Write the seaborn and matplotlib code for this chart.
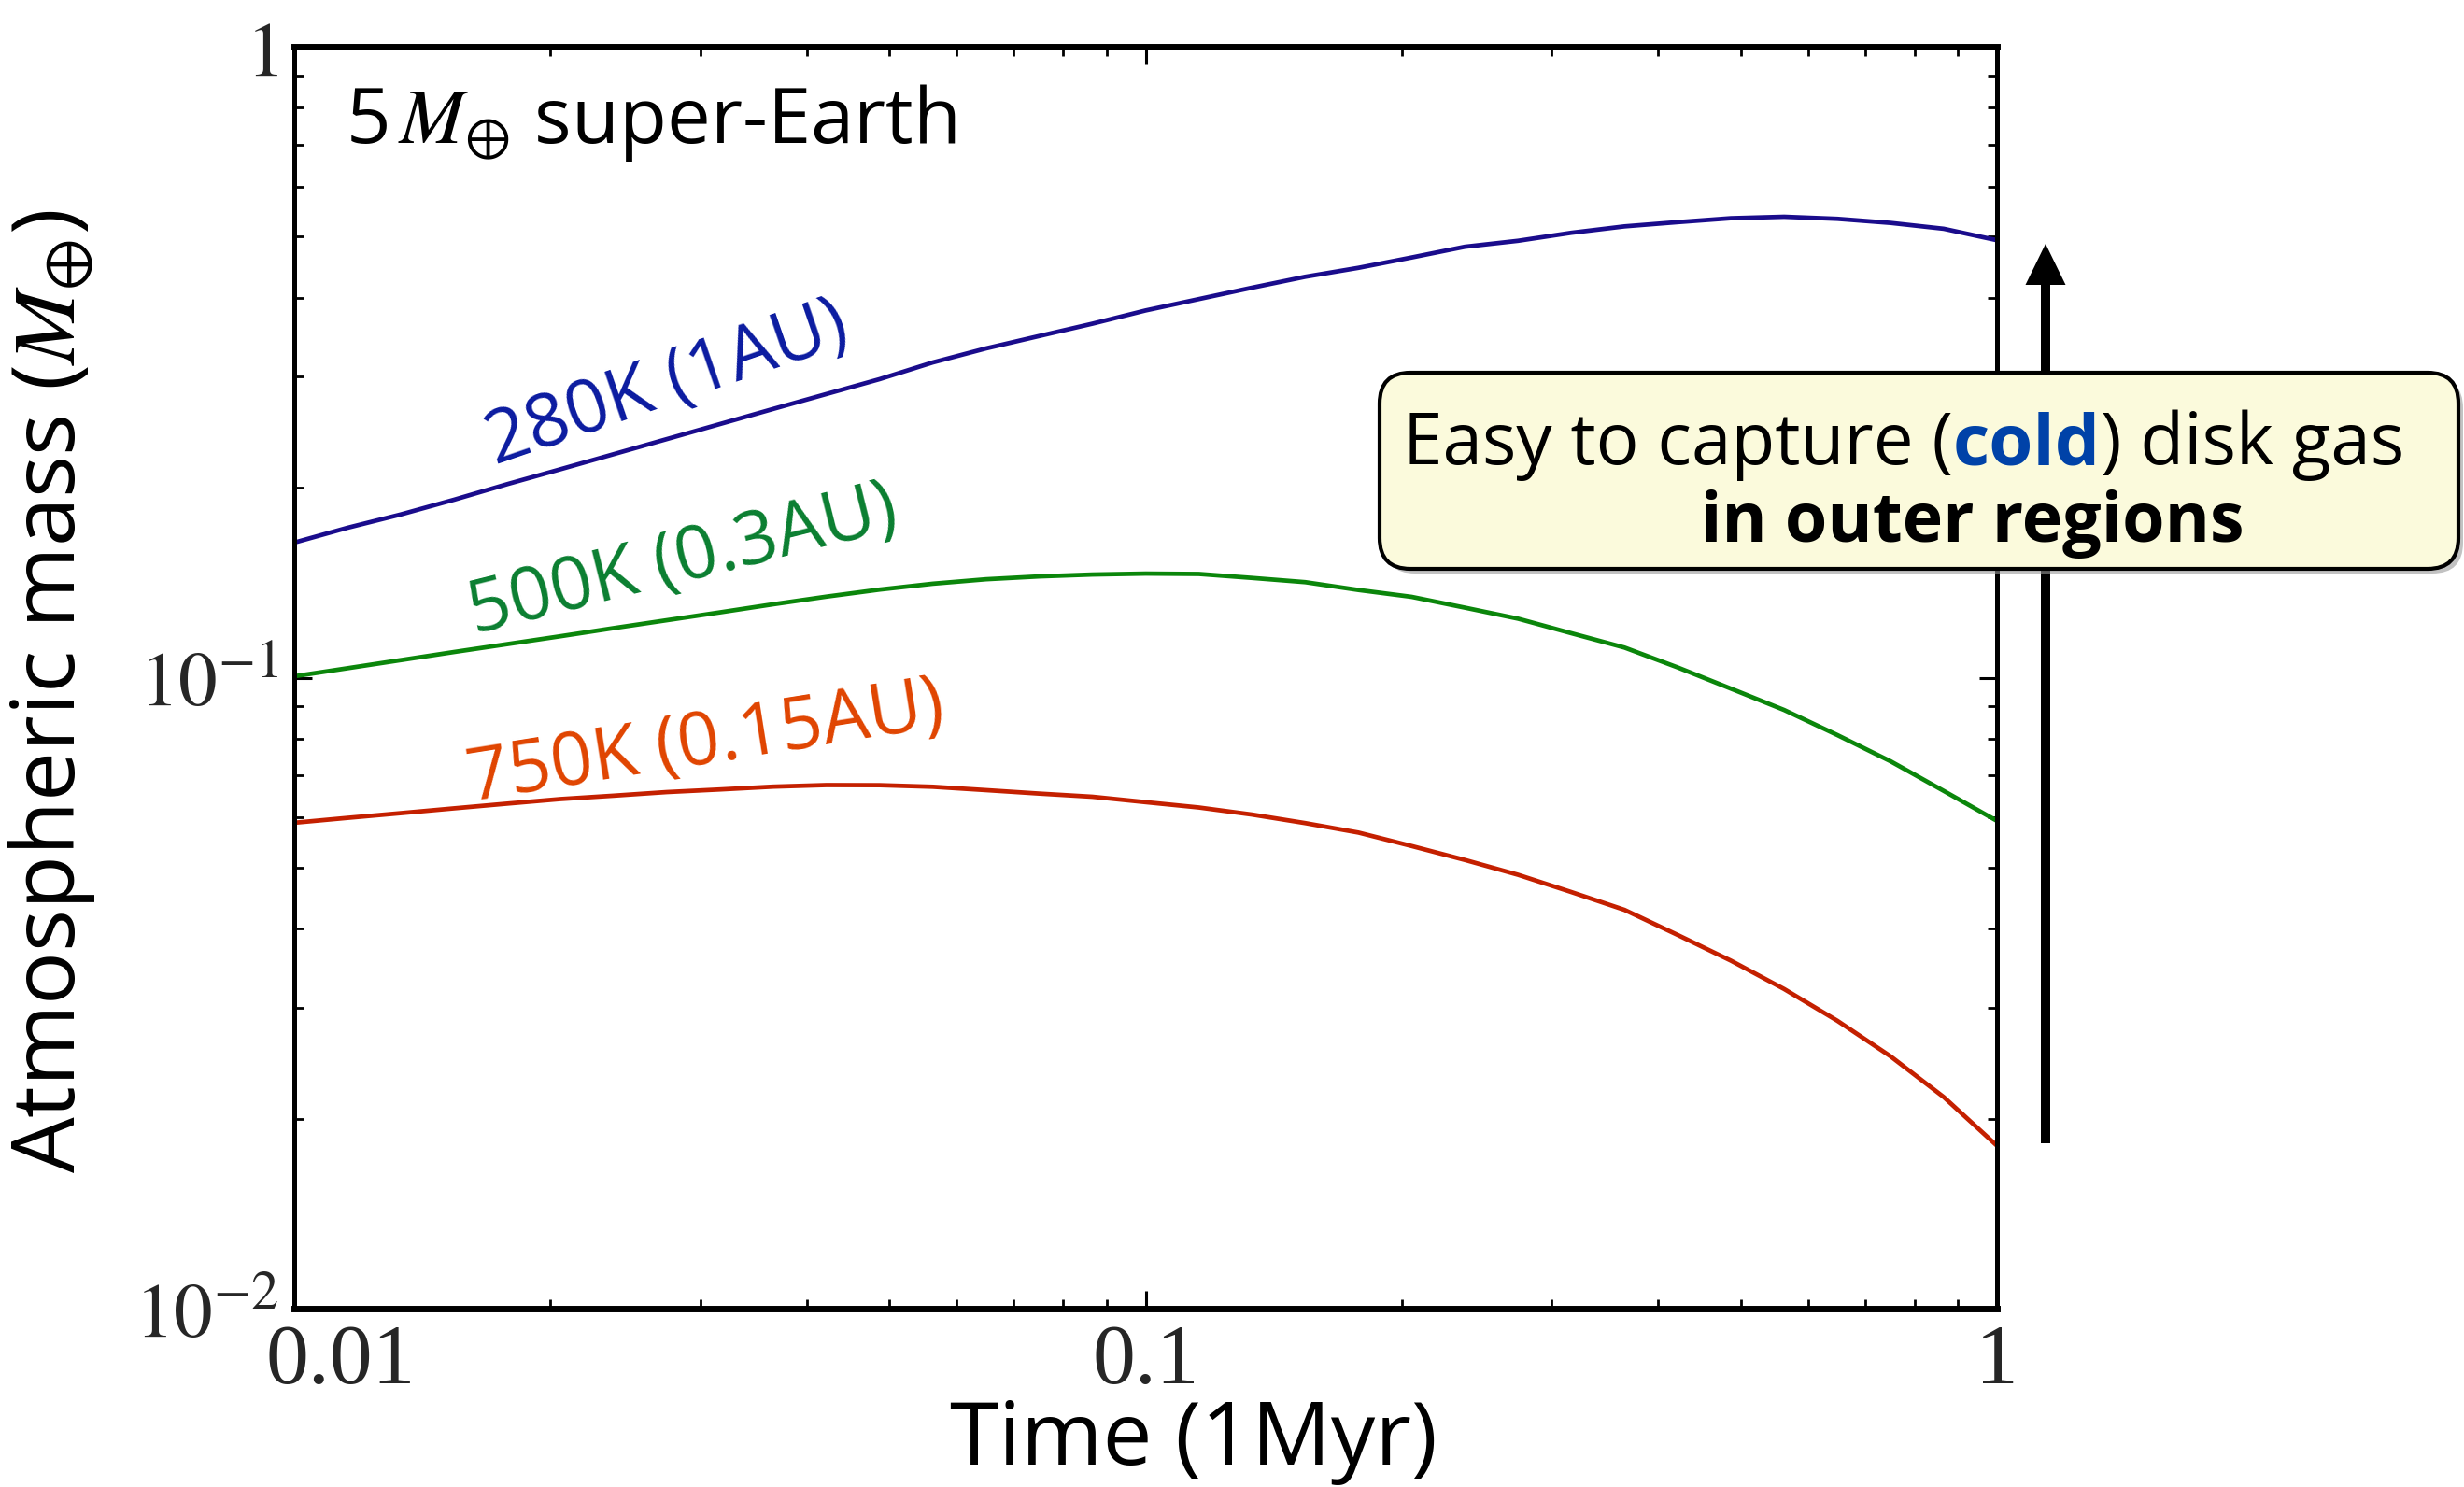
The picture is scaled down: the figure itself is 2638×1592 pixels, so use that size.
import numpy as np
import pandas as pd
import matplotlib
matplotlib.use("Agg")
import matplotlib.pyplot as plt
from matplotlib.patches import FancyBboxPatch, FancyArrow
from matplotlib.offsetbox import TextArea, HPacker, AnnotationBbox
from matplotlib.ticker import NullFormatter, FixedLocator, LogLocator
from matplotlib.transforms import ScaledTranslation
import seaborn as sns

sns.set_theme(style="ticks")
plt.rcParams['font.family'] = ['Open Sans', 'DejaVu Sans']
plt.rcParams['mathtext.fontset'] = 'stix'

# Time (in units of 1 Myr) and atmospheric mass (Earth masses) for each disk temperature
time_myr = [0.01, 0.011548, 0.013335, 0.015399, 0.017783, 0.020535, 0.023714, 0.027384,
            0.031623, 0.036517, 0.04217, 0.048697, 0.056234, 0.064938, 0.074989, 0.086596,
            0.1, 0.11548, 0.13335, 0.15399, 0.17783, 0.20535, 0.23714, 0.27384,
            0.31623, 0.36517, 0.4217, 0.48697, 0.56234, 0.64938, 0.74989, 0.86596, 1.0]
mass_280K = [0.1637, 0.1728, 0.1814, 0.1914, 0.2026, 0.2139, 0.2260, 0.2388,
             0.2523, 0.2666, 0.2815, 0.2972, 0.3159, 0.3325, 0.3479, 0.3639,
             0.3819, 0.3981, 0.4150, 0.4319, 0.4462, 0.4634, 0.4819, 0.4925,
             0.5071, 0.5191, 0.5272, 0.5348, 0.5377, 0.5336, 0.5257, 0.5146, 0.4935]
mass_500K = [0.1005, 0.1035, 0.1066, 0.1098, 0.1130, 0.1163, 0.1198, 0.1233,
             0.1269, 0.1307, 0.1344, 0.1379, 0.1409, 0.1432, 0.1447, 0.1457,
             0.1462, 0.1460, 0.1439, 0.1417, 0.1377, 0.1343, 0.1291, 0.1240,
             0.1176, 0.1116, 0.1038, 0.09607, 0.08887, 0.08110, 0.07370, 0.06614, 0.05929]
mass_750K = [0.05888, 0.05994, 0.06098, 0.06206, 0.06314, 0.06420, 0.06500, 0.06586,
             0.06649, 0.06718, 0.06757, 0.06754, 0.06715, 0.06633, 0.06550, 0.06475,
             0.06348, 0.06226, 0.06067, 0.05881, 0.05681, 0.05409, 0.05141, 0.04870,
             0.04573, 0.04285, 0.03910, 0.03560, 0.03210, 0.02859, 0.02511, 0.02164, 0.01812]

series_names = ["280K (1AU)", "500K (0.3AU)", "750K (0.15AU)"]
line_colors = ["#1a0c8c", "#0b860b", "#c42000"]
label_colors = ["#0b1ba0", "#0a7e30", "#e04400"]
# label anchor (time, mass) and rotation for each curve label
label_pos = [(0.0274, 0.291), (0.0286, 0.1524), (0.0304, 0.0784)]
label_rot = [19, 14, 9]

x_ticks = [0.01, 0.1, 1]
x_ticklabels = ["0.01", "0.1", "1"]
y_ticks = [0.01, 0.1, 1]
y_ticklabels = [r"$10^{-2}$", r"$10^{-1}$", r"$1$"]

n = len(time_myr)
df = pd.DataFrame({
    "time": time_myr * 3,
    "mass": mass_280K + mass_500K + mass_750K,
    "series": [series_names[0]] * n + [series_names[1]] * n + [series_names[2]] * n,
})

W, H = 2638, 1592
fig = plt.figure(figsize=(W / 100, H / 100), dpi=100)
fig.patch.set_facecolor("white")
ax = fig.add_axes([315 / W, 1 - 1401 / H, (2138 - 315) / W, (1401 - 50) / H])
ax.set_facecolor("white")
ax.set_xscale("log")
ax.set_yscale("log")

sns.lineplot(data=df, x="time", y="mass", hue="series",
             palette=dict(zip(series_names, line_colors)),
             linewidth=3.4, legend=False, ax=ax, sort=False)

ax.set_xlim(0.01, 1)
ax.set_ylim(0.01, 1)

ax.xaxis.set_major_locator(FixedLocator(x_ticks))
ax.yaxis.set_major_locator(FixedLocator(y_ticks))
ax.xaxis.set_minor_locator(LogLocator(base=10, subs=np.arange(2, 10)))
ax.yaxis.set_minor_locator(LogLocator(base=10, subs=np.arange(2, 10)))
ax.xaxis.set_minor_formatter(NullFormatter())
ax.yaxis.set_minor_formatter(NullFormatter())

ax.tick_params(which="both", direction="in", top=True, right=True, color="black")
ax.tick_params(which="major", length=14, width=2.2, pad=12)
ax.tick_params(which="minor", length=7, width=2.0)

ax.set_xticklabels(x_ticklabels, fontsize=66, family="Liberation Serif")
ax.set_yticklabels(y_ticklabels, fontsize=60)

# nudge the first time label right so it clears the lower y label
first = ax.xaxis.get_major_ticks()[0].label1
first.set_transform(first.get_transform() + ScaledTranslation(0.5, 0, fig.dpi_scale_trans))

for side in ["left", "right"]:
    ax.spines[side].set_linewidth(3.6)
    ax.spines[side].set_color("black")
for side in ["top", "bottom"]:
    ax.spines[side].set_linewidth(5.0)
    ax.spines[side].set_color("black")

ax.set_xlabel("Time (1Myr)", fontsize=68, color="black")
ax.set_ylabel(r"Atmospheric mass ($M_{\oplus}$)", fontsize=68, color="black")
ax.xaxis.set_label_coords(0.528, -0.071)
ax.yaxis.set_label_coords(-0.116, 0.489)

for name, (tx, my), rot, col in zip(series_names, label_pos, label_rot, label_colors):
    ax.text(tx, my, name, color=col, fontsize=57, rotation=rot,
            ha="center", va="center", rotation_mode="anchor")

ax.text(0.030, 0.94, r"5$\,M_{\oplus}$ super-Earth", transform=ax.transAxes,
        fontsize=60, ha="left", va="center", color="black")

# vertical arrow to the right of the axes (figure inches)
def px(x, y):
    return x / 100.0, (H - y) / 100.0

ax0, ay0 = px(2190, 1224)
_, ay1 = px(2190, 261)
arrow = FancyArrow(ax0, ay0, 0, ay1 - ay0, width=0.10, head_width=0.43,
                   head_length=0.44, length_includes_head=True,
                   fc="black", ec="none", lw=0, transform=fig.dpi_scale_trans,
                   zorder=1)
fig.add_artist(arrow)

# call-out box with shadow
bx0, by0 = px(1477, 609)
bx1, by1 = px(2632, 399)
shadow = FancyBboxPatch((bx0 + 0.05, by0 - 0.05), bx1 - bx0, by1 - by0,
                        boxstyle="round,pad=0,rounding_size=0.33",
                        fc="#9a9a9a", ec="none", alpha=0.6,
                        transform=fig.dpi_scale_trans, zorder=4)
box = FancyBboxPatch((bx0, by0), bx1 - bx0, by1 - by0,
                     boxstyle="round,pad=0,rounding_size=0.33",
                     fc="#fbfadc", ec="black", lw=3.0,
                     transform=fig.dpi_scale_trans, zorder=5)
fig.add_artist(shadow)
fig.add_artist(box)

tp = dict(fontsize=55, color="black")
line1 = HPacker(children=[
    TextArea("Easy to capture (", textprops=tp),
    TextArea("cold", textprops=dict(fontsize=55, color="#0042a8", fontweight="bold")),
    TextArea(") disk gas", textprops=tp),
], align="baseline", pad=0, sep=0)
l1x, l1y = px(1502, 477)
ab = AnnotationBbox(line1, (l1x, l1y), xycoords=fig.dpi_scale_trans,
                    box_alignment=(0, 0.5), frameon=False, pad=0, zorder=6)
fig.add_artist(ab)

l2x, l2y = px(1821, 561)
fig.text(l2x, l2y, "in outer regions", transform=fig.dpi_scale_trans,
         fontsize=53, fontweight="bold", color="black", ha="left", va="center",
         zorder=6)

fig.savefig("out.png", dpi=100, facecolor="white")
